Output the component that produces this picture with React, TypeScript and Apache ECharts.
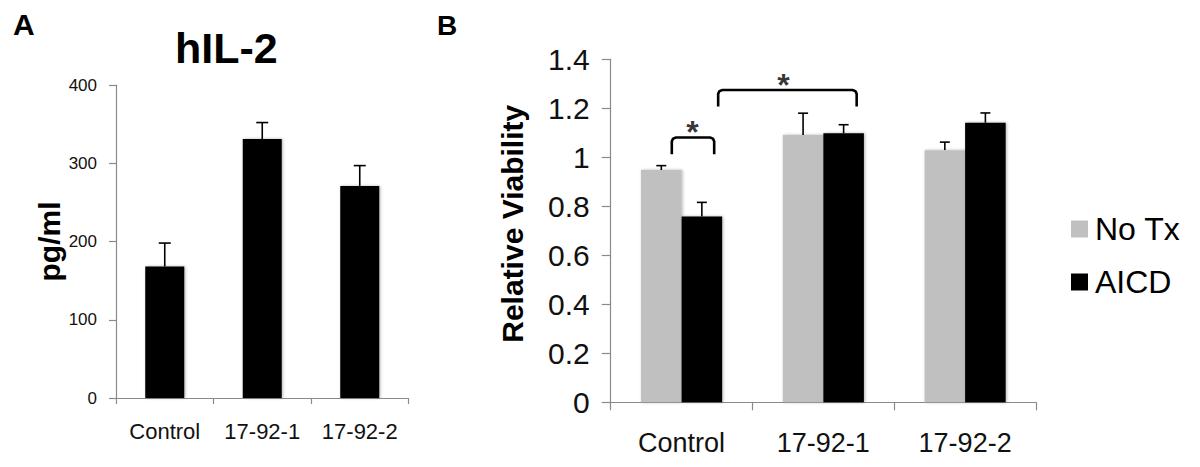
import React, { useEffect, useRef } from "react";
import * as echarts from "echarts";

// ---- Panel A data ----
const categoriesA = ["Control", "17-92-1", "17-92-2"];
const hil2Values = [168, 331, 271];
const hil2ErrTop = [198, 352, 297];

// ---- Panel B data ----
const categoriesB = ["Control", "17-92-1", "17-92-2"];
const noTxValues = [0.948, 1.091, 1.029];
const noTxErrTop = [0.966, 1.18, 1.062];
const aicdValues = [0.758, 1.098, 1.141];
const aicdErrTop = [0.816, 1.133, 1.181];

// significance brackets (x in category-band units, y in data units)
const bracketX = [
  [0.431, 0.73],
  [0.758, 1.735],
];
const bracketTop = [1.081, 1.275];
const bracketLeg = [1.012, 1.207];
const starX = [0.577, 1.218];
const starY = [1.132, 1.324];

const FONT = "Liberation Sans, Arial, Helvetica, sans-serif";

function errRender(offsetFrac: number, capW: number) {
  return (params: any, api: any) => {
    const c = api.value(0);
    const base = api.coord([c, api.value(1)]);
    const top = api.coord([c, api.value(2)]);
    const band = api.size([1, 0])[0];
    const x = base[0] + offsetFrac * band;
    const style = { stroke: "#000", lineWidth: 1.6 };
    return {
      type: "group",
      children: [
        { type: "line", shape: { x1: x, y1: base[1], x2: x, y2: top[1] }, style },
        { type: "line", shape: { x1: x - capW / 2, y1: top[1], x2: x + capW / 2, y2: top[1] }, style },
      ],
    };
  };
}

function bracketData(i: number) {
  const [x0, x1] = bracketX[i];
  const t = bracketTop[i];
  const l = bracketLeg[i];
  const dx = 0.03;
  const dy = 0.016;
  return [
    [x0, l],
    [x0, t - dy],
    [x0 + dx * 0.3, t - dy * 0.3],
    [x0 + dx, t],
    [x1 - dx, t],
    [x1 - dx * 0.3, t - dy * 0.3],
    [x1, t - dy],
    [x1, l],
  ];
}

export default function App() {
  const ref = useRef<HTMLDivElement>(null);
  useEffect(() => {
    if (!ref.current) return;
    const chart = echarts.init(ref.current, undefined, { renderer: "svg" });
    const axisLineStyle = { color: "#8a8a8a", width: 1.2 };
    const barShadow = {
      shadowBlur: 3,
      shadowColor: "rgba(0,0,0,0.3)",
      shadowOffsetX: 1,
      shadowOffsetY: 0,
    };
    chart.setOption({
      animation: false,
      backgroundColor: "#fff",
      title: [
        { text: "A", left: 8, top: 4, textStyle: { fontFamily: FONT, fontSize: 30, fontWeight: "bold", color: "#000" } },
        { text: "B", left: 432, top: 6, textStyle: { fontFamily: FONT, fontSize: 28, fontWeight: "bold", color: "#000" } },
        { text: "hIL-2", left: 170, top: 21, textStyle: { fontFamily: FONT, fontSize: 43, fontWeight: "bold", color: "#000" } },
      ],
      legend: {
        orient: "vertical",
        left: 1066,
        top: 208,
        itemWidth: 17,
        itemHeight: 17,
        itemGap: 21,
        icon: "rect",
        data: ["No Tx", "AICD"],
        textStyle: { fontFamily: FONT, fontSize: 32, color: "#000", lineHeight: 32, padding: [0, 0, 0, 2] },
      },
      grid: [
        { left: 116, top: 85, width: 292.5, height: 313, containLabel: false },
        { left: 610.7, top: 59.3, width: 425.3, height: 343, containLabel: false },
      ],
      xAxis: [
        {
          type: "category",
          gridIndex: 0,
          data: categoriesA,
          axisLine: { lineStyle: axisLineStyle },
          axisTick: { show: true, length: 6, lineStyle: axisLineStyle },
          axisLabel: { fontFamily: FONT, fontSize: 22, color: "#111", margin: 22, interval: 0, hideOverlap: false },
        },
        {
          type: "category",
          gridIndex: 1,
          data: categoriesB,
          axisLine: { lineStyle: axisLineStyle },
          axisTick: { show: true, length: 8, lineStyle: axisLineStyle },
          axisLabel: { fontFamily: FONT, fontSize: 27, color: "#111", margin: 27, interval: 0 },
        },
        {
          type: "value",
          gridIndex: 1,
          min: 0,
          max: 3,
          show: false,
        },
      ],
      yAxis: [
        {
          type: "value",
          gridIndex: 0,
          min: 0,
          max: 400,
          interval: 100,
          name: "pg/ml",
          nameLocation: "middle",
          nameRotate: 90,
          nameGap: 50,
          nameTextStyle: { fontFamily: FONT, fontSize: 30, fontWeight: "bold", color: "#000" },
          axisLine: { show: true, lineStyle: axisLineStyle },
          axisTick: { show: true, length: 7, lineStyle: axisLineStyle },
          splitLine: { show: false },
          axisLabel: { fontFamily: FONT, fontSize: 17, color: "#111", margin: 19 },
        },
        {
          type: "value",
          gridIndex: 1,
          min: 0,
          max: 1.4,
          interval: 0.2,
          name: "Relative Viability",
          nameLocation: "middle",
          nameRotate: 90,
          nameGap: 83,
          nameTextStyle: {
            fontFamily: FONT,
            fontSize: 30,
            fontWeight: "bold",
            color: "#000",
            padding: [0, 0, 0, 14],
          },
          axisLine: { show: true, lineStyle: axisLineStyle },
          axisTick: { show: true, length: 9, lineStyle: axisLineStyle },
          splitLine: { show: false },
          axisLabel: { fontFamily: FONT, fontSize: 30, color: "#111", margin: 21 },
        },
      ],
      series: [
        {
          name: "hIL-2",
          type: "bar",
          xAxisIndex: 0,
          yAxisIndex: 0,
          barWidth: "40%",
          data: hil2Values,
          itemStyle: { color: "#000", ...barShadow },
          z: 2,
        },
        {
          name: "hIL-2 err",
          type: "custom",
          xAxisIndex: 0,
          yAxisIndex: 0,
          renderItem: errRender(0, 12),
          data: hil2Values.map((v, i) => [i, v, hil2ErrTop[i]]),
          z: 1,
        },
        {
          name: "No Tx",
          type: "bar",
          xAxisIndex: 1,
          yAxisIndex: 1,
          barWidth: "28.6%",
          barGap: "0%",
          data: noTxValues,
          itemStyle: { color: "#c0c0c0", ...barShadow },
          z: 2,
        },
        {
          name: "AICD",
          type: "bar",
          xAxisIndex: 1,
          yAxisIndex: 1,
          barWidth: "28.6%",
          barGap: "0%",
          data: aicdValues,
          itemStyle: { color: "#000", ...barShadow },
          z: 2,
        },
        {
          name: "No Tx err",
          type: "custom",
          xAxisIndex: 1,
          yAxisIndex: 1,
          renderItem: errRender(-0.143, 10),
          data: noTxValues.map((v, i) => [i, v, noTxErrTop[i]]),
          z: 1,
        },
        {
          name: "AICD err",
          type: "custom",
          xAxisIndex: 1,
          yAxisIndex: 1,
          renderItem: errRender(0.143, 10),
          data: aicdValues.map((v, i) => [i, v, aicdErrTop[i]]),
          z: 1,
        },
        ...bracketX.map((_, i) => ({
          name: "bracket" + i,
          type: "line",
          xAxisIndex: 2,
          yAxisIndex: 1,
          data: bracketData(i),
          symbol: "none",
          lineStyle: { color: "#000", width: 2.6 },
          z: 3,
        })),
        {
          name: "stars",
          type: "scatter",
          xAxisIndex: 2,
          yAxisIndex: 1,
          symbolSize: 0,
          data: starX.map((x, i) => [x, starY[i]]),
          label: {
            show: true,
            position: "inside",
            formatter: "*",
            fontFamily: FONT,
            fontSize: 32,
            fontWeight: "bold",
            color: "#000",
            offset: [0, 7],
          },
          z: 3,
        },
      ],
    });
    return () => chart.dispose();
  }, []);
  return (
    <div
      ref={ref}
      style={{ position: "absolute", left: 0, top: 0, width: 1200, height: 467, background: "#fff" }}
    />
  );
}
